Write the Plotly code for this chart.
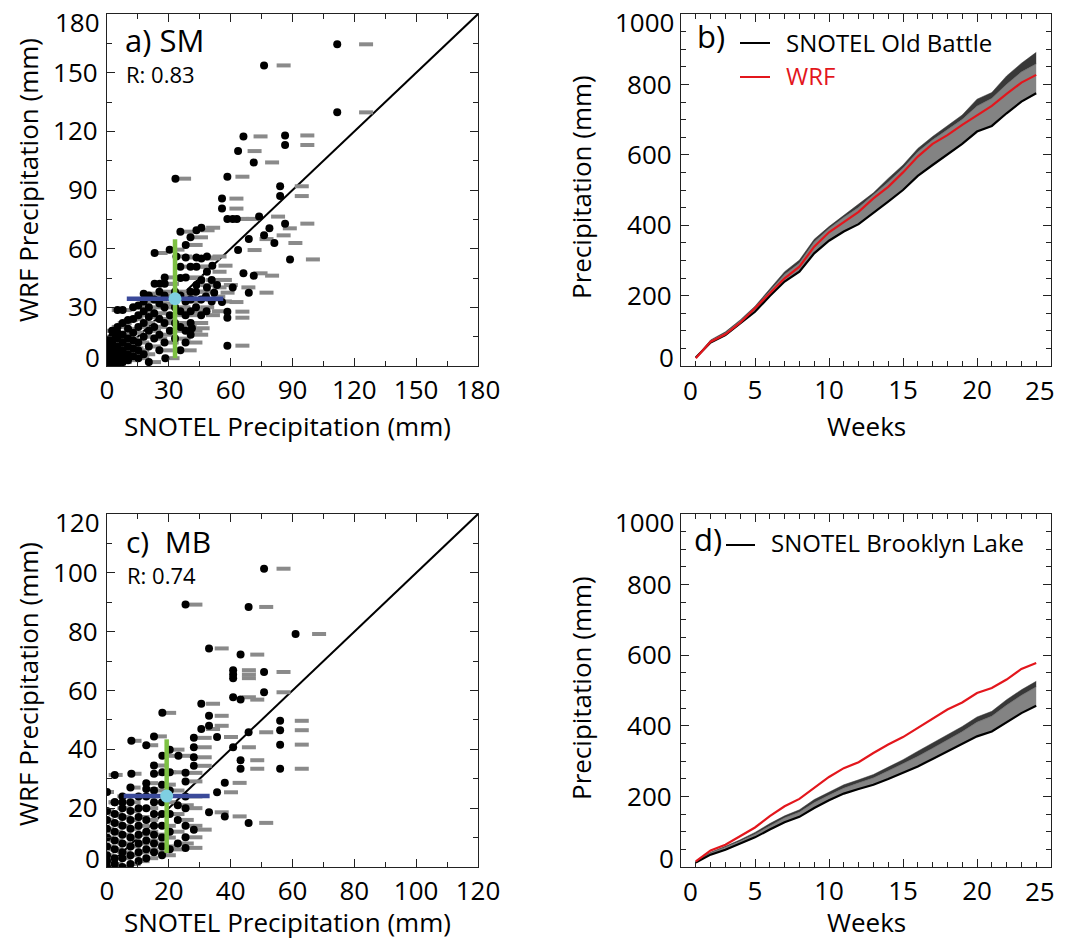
import plotly.graph_objects as go

FONT = "Open Sans"

# ---------------- Panel a) SM ----------------
sm_snotel = [111.7, 76.2, 111.7, 66.2, 86.4, 86.4, 63.6, 71.2, 33.2, 58.4,
             84.0, 84.0, 55.8, 55.8, 58.4, 61.0, 63.0, 73.8, 78.8, 35.6,
             43.4, 45.8, 86.4, 76.2, 81.2, 68.8, 38.2, 40.5, 30.4, 23.1,
             63.6, 88.8, 33.7, 38.2, 43.4, 45.8, 48.5, 40.5, 43.4, 51.1,
             48.5, 66.2, 71.2, 28.0, 38.2, 23.1, 25.6, 28.0, 43.4, 48.5,
             53.4, 61.0, 68.8, 55.8, 58.4, 58.4, 58.4, 35.6, 45.8, 40.5,
             48.0, 52.0, 41.2, 28.3,
             0, 0, 0, 0, 0, 0, 0,
             2.5, 2.5, 2.5, 2.5, 2.5, 2.5, 2.5,
             5.1, 5.1, 5.1, 5.1, 5.1, 5.1, 5.1, 5.1,
             7.6, 7.6, 7.6, 7.6, 7.6, 7.6, 7.6,
             10.2, 10.2, 10.2, 10.2, 10.2, 10.2,
             12.7, 12.7, 12.7, 12.7, 12.7, 12.7,
             15.2, 15.2, 15.2, 15.2, 15.2, 15.2,
             17.8, 17.8, 17.8, 17.8, 17.8, 17.8,
             20.3, 20.3, 20.3, 20.3, 20.3, 20.3,
             22.9, 22.9, 22.9, 22.9,
             25.4, 25.4, 25.4, 25.4, 25.4,
             27.9, 27.9, 27.9, 27.9,
             30.5, 30.5,
             33.0, 33.0, 33.0, 33.0,
             35.6, 35.6, 35.6, 35.6, 35.6,
             38.1, 38.1, 38.1, 38.1,
             40.6, 40.6, 40.6, 40.6,
             43.2, 43.2,
             45.7, 45.7,
             48.3,
             50.8, 50.8]
sm_wrf = [164.5, 153.7, 129.7, 117.4, 117.9, 113.0, 109.9, 104.1, 95.8, 96.8,
          91.9, 86.9, 85.6, 80.5, 75.2, 75.2, 75.2, 76.4, 70.4, 68.7,
          69.4, 70.7, 72.8, 66.8, 62.9, 64.9, 61.9, 65.8, 59.5, 57.8,
          59.3, 54.5, 56.0, 55.5, 55.5, 55.0, 56.0, 50.8, 50.8, 51.3,
          48.2, 47.4, 46.2, 45.3, 45.3, 42.0, 42.0, 42.0, 41.4, 40.2,
          41.4, 40.2, 37.5, 32.7, 10.4, 27.8, 24.7, 50.8, 44.0, 38.0,
          35.5, 37.5, 19.3, 4.0,
          0, 2, 4, 6, 8, 10, 13,
          0, 3, 6, 9, 12, 15, 18,
          1, 4, 7, 10, 14, 17, 20, 28.6,
          2, 5, 8, 12, 16, 22, 28.6,
          3, 6, 10, 14, 19, 23.5,
          5, 9, 13, 17, 24, 30,
          4, 8, 12, 20, 26, 31,
          6, 15, 22, 28, 33, 37,
          2, 10, 18, 25, 30, 36,
          14, 20, 27, 34,
          8, 16, 24, 32, 38,
          12, 22, 30, 36,
          18, 26,
          14, 22, 30, 38,
          8, 20, 28, 36, 45,
          12, 18, 26, 33,
          16, 22, 28, 34,
          30, 38,
          26, 34,
          28,
          33, 44]
sm_snotel_adj = [125.7, 85.7, 125.7, 74.5, 97.2, 97.2, 71.6, 80.1, 37.4, 65.7,
                 94.5, 94.5, 62.8, 62.8, 65.7, 68.6, 70.9, 83.0, 88.7, 40.1,
                 48.8, 51.5, 97.2, 85.7, 91.4, 77.4, 43.0, 45.6, 34.2, 26.0,
                 71.6, 99.9, 37.9, 43.0, 48.8, 51.5, 54.6, 45.6, 48.8, 57.5,
                 54.6, 74.5, 80.1, 31.5, 43.0, 26.0, 28.8, 31.5, 48.8, 54.6,
                 60.1, 68.6, 77.4, 62.8, 65.7, 65.7, 65.7, 40.1, 51.5, 45.6,
                 54.0, 58.5, 46.4, 31.8,
                 0, 0, 0, 0, 0, 0, 0,
                 2.8, 2.8, 2.8, 2.8, 2.8, 2.8, 2.8,
                 5.7, 5.7, 5.7, 5.7, 5.7, 5.7, 5.7, 5.7,
                 8.6, 8.6, 8.6, 8.6, 8.6, 8.6, 8.6,
                 11.5, 11.5, 11.5, 11.5, 11.5, 11.5,
                 14.3, 14.3, 14.3, 14.3, 14.3, 14.3,
                 17.1, 17.1, 17.1, 17.1, 17.1, 17.1,
                 20.0, 20.0, 20.0, 20.0, 20.0, 20.0,
                 22.8, 22.8, 22.8, 22.8, 22.8, 22.8,
                 25.8, 25.8, 25.8, 25.8,
                 28.6, 28.6, 28.6, 28.6, 28.6,
                 31.4, 31.4, 31.4, 31.4,
                 34.3, 34.3,
                 37.1, 37.1, 37.1, 37.1,
                 40.1, 40.1, 40.1, 40.1, 40.1,
                 42.9, 42.9, 42.9, 42.9,
                 45.7, 45.7, 45.7, 45.7,
                 48.6, 48.6,
                 51.4, 51.4,
                 54.3,
                 57.2, 57.2]
sm_mean_x, sm_mean_y = [33.0], [34.4]
sm_sd_x, sm_sd_y = [23.4], [30.4]
sm_r = "R: 0.83"
sm_ticks = [0, 30, 60, 90, 120, 150, 180]

# ---------------- Panel c) MB ----------------
mb_snotel = [50.8, 25.4, 45.8, 61.0, 33.0, 43.2, 40.8, 40.8, 40.8, 50.8,
             50.8, 40.8, 43.2, 30.5, 17.9, 33.0, 30.5, 33.0, 35.6, 45.8,
             56.0, 56.0, 56.0, 56.0, 40.8, 43.2, 43.2, 28.1, 28.1, 28.1,
             28.1, 25.4, 25.4, 38.1, 7.9, 12.7, 15.2, 17.9, 20.3, 23.1,
             15.2, 15.2, 17.9, 20.3, 7.9, 2.5, 0, 12.7, 12.7, 5.0,
             2.5, 33.0, 38.1, 45.8, 28.1, 25.4, 25.4, 35.6,
             0, 0, 0, 0, 0, 0, 0, 0,
             2.5, 2.5, 2.5, 2.5, 2.5, 2.5, 2.5, 2.5,
             5.0, 5.0, 5.0, 5.0, 5.0, 5.0, 5.0, 5.0, 5.0,
             7.6, 7.6, 7.6, 7.6, 7.6, 7.6, 7.6, 7.6, 7.6,
             10.2, 10.2, 10.2, 10.2, 10.2, 10.2, 10.2, 10.2,
             12.7, 12.7, 12.7, 12.7, 12.7, 12.7, 12.7,
             15.2, 15.2, 15.2, 15.2, 15.2, 15.2, 15.2,
             17.8, 17.8, 17.8, 17.8, 17.8, 17.8, 17.8,
             20.3, 20.3, 20.3, 20.3,
             22.9, 22.9, 22.9,
             25.4, 25.4, 25.4]
mb_wrf = [101.4, 89.2, 88.4, 79.2, 74.3, 72.2, 66.9, 65.4, 64.2, 66.3,
          59.4, 57.7, 56.9, 55.5, 52.4, 51.4, 46.9, 48.0, 44.2, 45.8,
          49.7, 46.5, 41.6, 33.4, 40.7, 36.3, 33.4, 43.9, 40.7, 37.3,
          34.4, 32.0, 29.1, 28.6, 42.9, 41.4, 44.4, 37.8, 39.9, 37.8,
          34.5, 31.7, 32.2, 32.2, 31.7, 31.3, 25.5, 28.5, 26.5, 22.0,
          22.0, 18.6, 17.2, 15.0, 12.7, 10.1, 6.5, 25.4,
          0, 2, 4, 7, 10, 13, 16, 19,
          1, 3, 6, 9, 12, 15, 18, 22,
          0, 3, 5, 8, 11, 14, 17, 20, 24,
          1, 4, 7, 10, 13, 16, 19, 22, 27,
          2, 5, 8, 11, 14, 17, 20, 24,
          3, 6, 9, 12, 16, 20, 24,
          5, 8, 11, 14, 18, 22, 26,
          4, 7, 10, 14, 18, 22, 28,
          6, 12, 18, 26,
          8, 16, 21,
          14, 20, 24]
mb_snotel_adj = [57.1, 28.6, 51.5, 68.6, 37.1, 48.6, 45.9, 45.9, 45.9, 57.1,
                 57.1, 45.9, 48.6, 34.3, 20.1, 37.1, 34.3, 37.1, 40.1, 51.5,
                 63.0, 63.0, 63.0, 63.0, 45.9, 48.6, 48.6, 31.6, 31.6, 31.6,
                 31.6, 28.6, 28.6, 42.9, 8.9, 14.3, 17.1, 20.1, 22.8, 26.0,
                 17.1, 17.1, 20.1, 22.8, 8.9, 2.8, 0, 14.3, 14.3, 5.6,
                 2.8, 37.1, 42.9, 51.5, 31.6, 28.6, 28.6, 40.1,
                 0, 0, 0, 0, 0, 0, 0, 0,
                 2.8, 2.8, 2.8, 2.8, 2.8, 2.8, 2.8, 2.8,
                 5.6, 5.6, 5.6, 5.6, 5.6, 5.6, 5.6, 5.6, 5.6,
                 8.6, 8.6, 8.6, 8.6, 8.6, 8.6, 8.6, 8.6, 8.6,
                 11.5, 11.5, 11.5, 11.5, 11.5, 11.5, 11.5, 11.5,
                 14.3, 14.3, 14.3, 14.3, 14.3, 14.3, 14.3,
                 17.1, 17.1, 17.1, 17.1, 17.1, 17.1, 17.1,
                 20.0, 20.0, 20.0, 20.0, 20.0, 20.0, 20.0,
                 22.8, 22.8, 22.8, 22.8,
                 25.8, 25.8, 25.8,
                 28.6, 28.6, 28.6]
mb_mean_x, mb_mean_y = [19.3], [24.1]
mb_sd_x, mb_sd_y = [13.9], [19.3]
mb_r = "R: 0.74"
mb_ticks = [0, 20, 40, 60, 80, 100, 120]

# ---------------- Panels b), d) cumulative ----------------
weeks = list(range(1, 25))
week_ticks = [0, 5, 10, 15, 20, 25]
precip_ticks = [0, 200, 400, 600, 800, 1000]

ob_snotel = [24, 67, 88, 121, 154, 199, 240, 268, 320, 356, 382, 403,
             434, 467, 500, 540, 571, 602, 631, 666, 682, 718, 751, 775]
ob_mid = [24, 72, 94, 128, 166, 213, 260, 292, 352, 390, 422, 450,
          486, 522, 562, 608, 642, 670, 700, 738, 760, 800, 835, 858]
ob_upper = [24, 74, 97, 131, 170, 218, 268, 301, 360, 396, 429, 460,
            492, 533, 571, 618, 652, 682, 713, 758, 777, 824, 860, 891]
ob_wrf = [22, 69, 90, 123, 164, 206, 249, 282, 339, 380, 410, 438,
          476, 509, 550, 595, 631, 656, 685, 713, 739, 773, 805, 827]

bl_snotel = [13, 35, 49, 66, 84, 106, 127, 142, 167, 189, 208, 221,
             233, 249, 266, 285, 306, 328, 349, 370, 384, 410, 436, 457]
bl_mid = [15, 40, 56, 73, 93, 117, 139, 155, 182, 203, 223, 238,
          252, 272, 292, 313, 336, 360, 383, 410, 427, 458, 486, 510]
bl_upper = [16, 42, 59, 77, 98, 123, 145, 162, 191, 212, 233, 247,
            262, 283, 304, 328, 351, 375, 398, 425, 441, 474, 502, 526]
bl_wrf = [16, 47, 63, 87, 112, 144, 172, 193, 224, 255, 280, 297,
          323, 347, 368, 394, 422, 446, 466, 493, 507, 531, 561, 578]

# ---------------- figure ----------------
W, H = 1067, 941
def px(x):
    return x / W
def py(y):
    return 1 - y / H

XA = [px(107), px(478)]
XB = [px(681), px(1051)]
YT = [py(366), py(14)]
YB = [py(867), py(514)]

GREY_MED = "#838383"
GREY_DARK = "#383838"
BLUE = "#3b4a9a"
GREEN = "#7dc143"
CYAN = "#7fcfe2"
RED = "#e3161c"
TICK_SIZE = 26

fig = go.Figure()

def scatter_panel(xs, ys, xadj, mx, my, sx, sy, ticks, xa, ya):
    rng = [ticks[0], ticks[-1]]
    fig.add_trace(go.Scatter(x=rng, y=rng, mode="lines",
                             line=dict(color="black", width=2),
                             xaxis=xa, yaxis=ya, showlegend=False))
    fig.add_trace(go.Scatter(x=xadj, y=ys, mode="markers",
                             marker=dict(symbol="line-ew", size=10,
                                         line=dict(color="#8a8a8a", width=4)),
                             xaxis=xa, yaxis=ya, showlegend=False))
    fig.add_trace(go.Scatter(x=xs, y=ys, mode="markers",
                             marker=dict(color="black", size=8, symbol="circle"),
                             xaxis=xa, yaxis=ya, showlegend=False))
    fig.add_trace(go.Scatter(x=mx, y=my, mode="markers",
                             marker=dict(color=CYAN, size=13),
                             error_x=dict(type="data", array=sx, color=BLUE,
                                          thickness=4.5, width=0),
                             error_y=dict(type="data", array=sy, color=GREEN,
                                          thickness=4.5, width=0),
                             xaxis=xa, yaxis=ya, showlegend=False))

def cum_panel(snotel, mid, upper, wrf, xa, ya):
    fig.add_trace(go.Scatter(x=weeks, y=snotel, mode="lines",
                             line=dict(color=GREY_MED, width=0.5),
                             xaxis=xa, yaxis=ya, showlegend=False))
    fig.add_trace(go.Scatter(x=weeks, y=mid, mode="lines", fill="tonexty",
                             fillcolor=GREY_MED,
                             line=dict(color="#6e6e6e", width=0.8),
                             xaxis=xa, yaxis=ya, showlegend=False))
    fig.add_trace(go.Scatter(x=weeks, y=upper, mode="lines", fill="tonexty",
                             fillcolor=GREY_DARK,
                             line=dict(color=GREY_DARK, width=0.5),
                             xaxis=xa, yaxis=ya, showlegend=False))
    fig.add_trace(go.Scatter(x=weeks, y=snotel, mode="lines",
                             line=dict(color="black", width=2.2),
                             xaxis=xa, yaxis=ya, showlegend=False))
    fig.add_trace(go.Scatter(x=weeks, y=wrf, mode="lines",
                             line=dict(color=RED, width=2.2),
                             xaxis=xa, yaxis=ya, showlegend=False))

scatter_panel(sm_snotel, sm_wrf, sm_snotel_adj, sm_mean_x, sm_mean_y,
              sm_sd_x, sm_sd_y, sm_ticks, "x", "y")
cum_panel(ob_snotel, ob_mid, ob_upper, ob_wrf, "x2", "y2")
scatter_panel(mb_snotel, mb_wrf, mb_snotel_adj, mb_mean_x, mb_mean_y,
              mb_sd_x, mb_sd_y, mb_ticks, "x3", "y3")
cum_panel(bl_snotel, bl_mid, bl_upper, bl_wrf, "x4", "y4")

def ax(domain, ticks, minor_dtick, anchor, is_x, blank):
    # blank: indices of tick labels drawn separately (shifted like the original)
    texts = ["" if i in blank else str(t) for i, t in enumerate(ticks)]
    return dict(domain=domain, range=[ticks[0], ticks[-1]], anchor=anchor,
                automargin=False,
                tickmode="array", tickvals=ticks, ticktext=texts,
                ticks="inside", ticklen=8, tickwidth=1, tickcolor="#222",
                minor=dict(ticks="inside", ticklen=5, tickwidth=1,
                           tickcolor="#222", tickmode="linear", tick0=0,
                           dtick=minor_dtick, showgrid=False),
                showline=True, linecolor="#222", linewidth=1.2, mirror="ticks",
                showgrid=False, zeroline=False,
                tickfont=dict(family=FONT, size=TICK_SIZE, color="black"),
                ticklabelstandoff=1 if is_x else 3,
                ticklabeloverflow="allow",
                fixedrange=True)

fig.update_layout(
    template="none",
    width=W, height=H,
    margin=dict(l=0, r=0, t=0, b=0, autoexpand=False),
    paper_bgcolor="white", plot_bgcolor="white",
    font=dict(family=FONT, color="black"),
    showlegend=False,
    xaxis=ax(XA, sm_ticks, 15, "y", True, []),
    yaxis=ax(YT, sm_ticks, 15, "x", False, [0, 6]),
    xaxis2=ax(XB, week_ticks, 1, "y2", True, [0, 5]),
    yaxis2=ax(YT, precip_ticks, 50, "x2", False, [0, 5]),
    xaxis3=ax(XA, mb_ticks, 10, "y3", True, []),
    yaxis3=ax(YB, mb_ticks, 10, "x3", False, [0, 6]),
    xaxis4=ax(XB, week_ticks, 1, "y4", True, [0, 5]),
    yaxis4=ax(YB, precip_ticks, 50, "x4", False, [0, 5]),
)

ann = []
def text(x, y, s, size, color="black", angle=0, xanchor="center"):
    ann.append(dict(x=px(x), y=py(y), xref="paper", yref="paper", text=s,
                    showarrow=False, xanchor=xanchor, yanchor="middle",
                    textangle=angle,
                    font=dict(family=FONT, size=size, color=color)))

# end tick labels, nudged inward like the original figure
def yend(val, xa, ya, shift):
    ann.append(dict(x=0, xref=xa + " domain", y=val, yref=ya, text=str(val),
                    showarrow=False, xanchor="right", yanchor="middle",
                    xshift=-5, yshift=shift,
                    font=dict(family=FONT, size=TICK_SIZE, color="black")))
def xend(val, xa, ya, shift):
    ann.append(dict(x=val, xref=xa, y=0, yref=ya + " domain", text=str(val),
                    showarrow=False, xanchor="center", yanchor="top",
                    xshift=shift, yshift=-4,
                    font=dict(family=FONT, size=TICK_SIZE, color="black")))

for ticks, xa, ya in [(sm_ticks, "x", "y"), (precip_ticks, "x2", "y2"),
                      (mb_ticks, "x3", "y3"), (precip_ticks, "x4", "y4")]:
    yend(ticks[0], xa, ya, 9)
    yend(ticks[-1], xa, ya, -8)
for xa, ya in [("x2", "y2"), ("x4", "y4")]:
    xend(week_ticks[0], xa, ya, 9)
    xend(week_ticks[-1], xa, ya, -11)

# axis titles
text(287, 426, "SNOTEL Precipitation (mm)", 26)
text(287, 922, "SNOTEL Precipitation (mm)", 26)
text(28, 180, "WRF Precipitation (mm)", 26, angle=-90)
text(28, 684, "WRF Precipitation (mm)", 26, angle=-90)
text(581, 187, "Precipitation (mm)", 26, angle=-90)
text(581, 688, "Precipitation (mm)", 26, angle=-90)
text(866, 426, "Weeks", 26)
text(866, 922, "Weeks", 26)

# panel labels
text(123, 40, "a) SM", 31, xanchor="left")
text(124, 74, sm_r, 22, xanchor="left")
text(124, 541, "c)  MB", 30, xanchor="left")
text(125, 575, mb_r, 22, xanchor="left")
text(695, 36, "b)", 31, xanchor="left")
text(692, 539, "d)", 31, xanchor="left")

# legends
text(784, 42, "SNOTEL Old Battle", 24, xanchor="left")
text(784, 75, "WRF", 24, color=RED, xanchor="left")
text(769, 542, "SNOTEL Brooklyn Lake", 24, xanchor="left")

shapes = [
    dict(type="line", xref="paper", yref="paper", x0=px(740), x1=px(770),
         y0=py(43), y1=py(43), line=dict(color="black", width=2)),
    dict(type="line", xref="paper", yref="paper", x0=px(740), x1=px(770),
         y0=py(77), y1=py(77), line=dict(color=RED, width=2)),
    dict(type="line", xref="paper", yref="paper", x0=px(726), x1=px(755),
         y0=py(545), y1=py(545), line=dict(color="black", width=2)),
]
fig.update_layout(annotations=ann, shapes=shapes)

fig.write_html("out.html")
